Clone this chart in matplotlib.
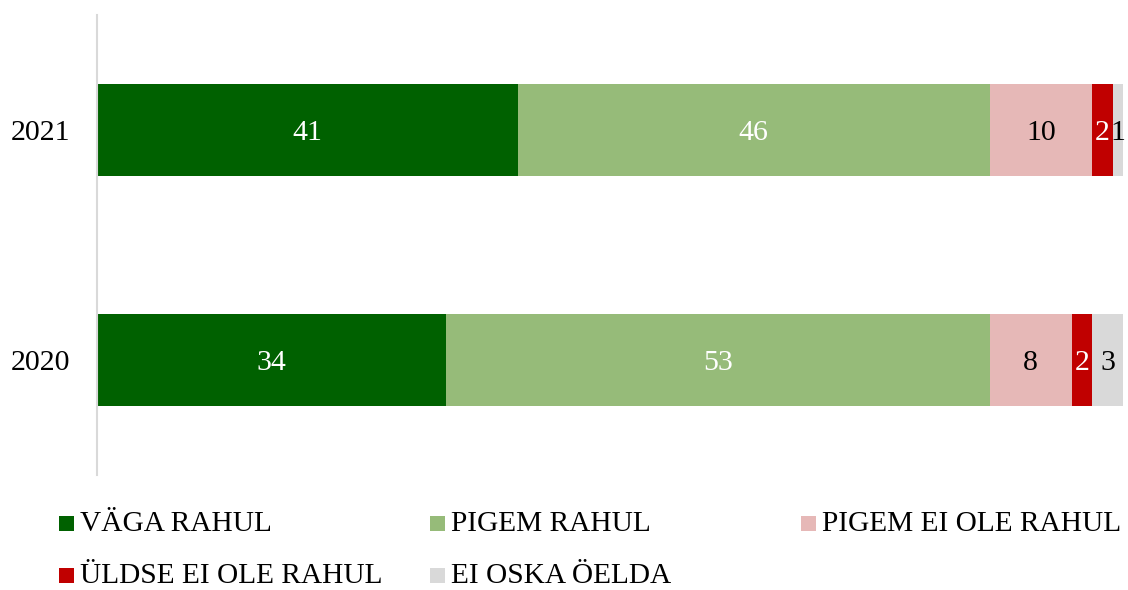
import matplotlib
matplotlib.use("Agg")
import matplotlib.pyplot as plt
from matplotlib.patches import Rectangle

plt.rcParams['font.family'] = ['Liberation Serif', 'DejaVu Serif']

years = ["2020", "2021"]
categories = ["VÄGA RAHUL", "PIGEM RAHUL", "PIGEM EI OLE RAHUL",
              "ÜLDSE EI OLE RAHUL", "EI OSKA ÖELDA"]
values_2020 = [34, 53, 8, 2, 3]
values_2021 = [41, 46, 10, 2, 1]
colors = ["#006100", "#96BB79", "#E6B8B7", "#C00000", "#D9D9D9"]
label_colors = ["white", "white", "black", "white", "black"]

series = [values_2020, values_2021]
FS = 21.5
FS_LEGEND = 21.2

fig = plt.figure(figsize=(11.28, 5.90), dpi=100)
W, H = 1128, 590
ax = fig.add_axes([97 / W, 1 - 475 / H, (1123 - 97) / W, (475 - 15) / H])

for yi, vals in enumerate(series):
    left = 0
    for ci, v in enumerate(vals):
        ax.barh(yi, v, left=left, height=0.4, color=colors[ci], edgecolor="none")
        ax.annotate(str(v), xy=(left + v / 2, yi), xytext=(0, -7.3),
                    textcoords="offset points", ha="center", va="baseline",
                    fontsize=FS, color=label_colors[ci])
        left += v

ax.set_xlim(0, 100)
ax.set_ylim(-0.5, 1.5)
ax.set_yticks(range(len(years)))
ax.set_yticklabels(years, fontsize=FS)
ax.tick_params(axis="y", length=0, pad=19)
ax.set_xticks([])
for side in ["top", "right", "bottom"]:
    ax.spines[side].set_visible(False)
ax.spines["left"].set_color("#D9D9D9")
ax.spines["left"].set_linewidth(1.5)

# Legend laid out in a 3-column grid below the plot
legend_x = [59, 430, 801]
legend_base = [531, 583]
sq = 15
for i, (name, col) in enumerate(zip(categories, colors)):
    r, c = divmod(i, 3)
    x0, yb = legend_x[c], legend_base[r]
    fig.patches.append(Rectangle((x0 / W, 1 - yb / H), sq / W, sq / H,
                                 transform=fig.transFigure, facecolor=col,
                                 edgecolor="none"))
    fig.text((x0 + sq + 6) / W, 1 - yb / H, name, ha="left", va="baseline",
             fontsize=FS_LEGEND, color="black")

fig.savefig("out.png", dpi=100)
